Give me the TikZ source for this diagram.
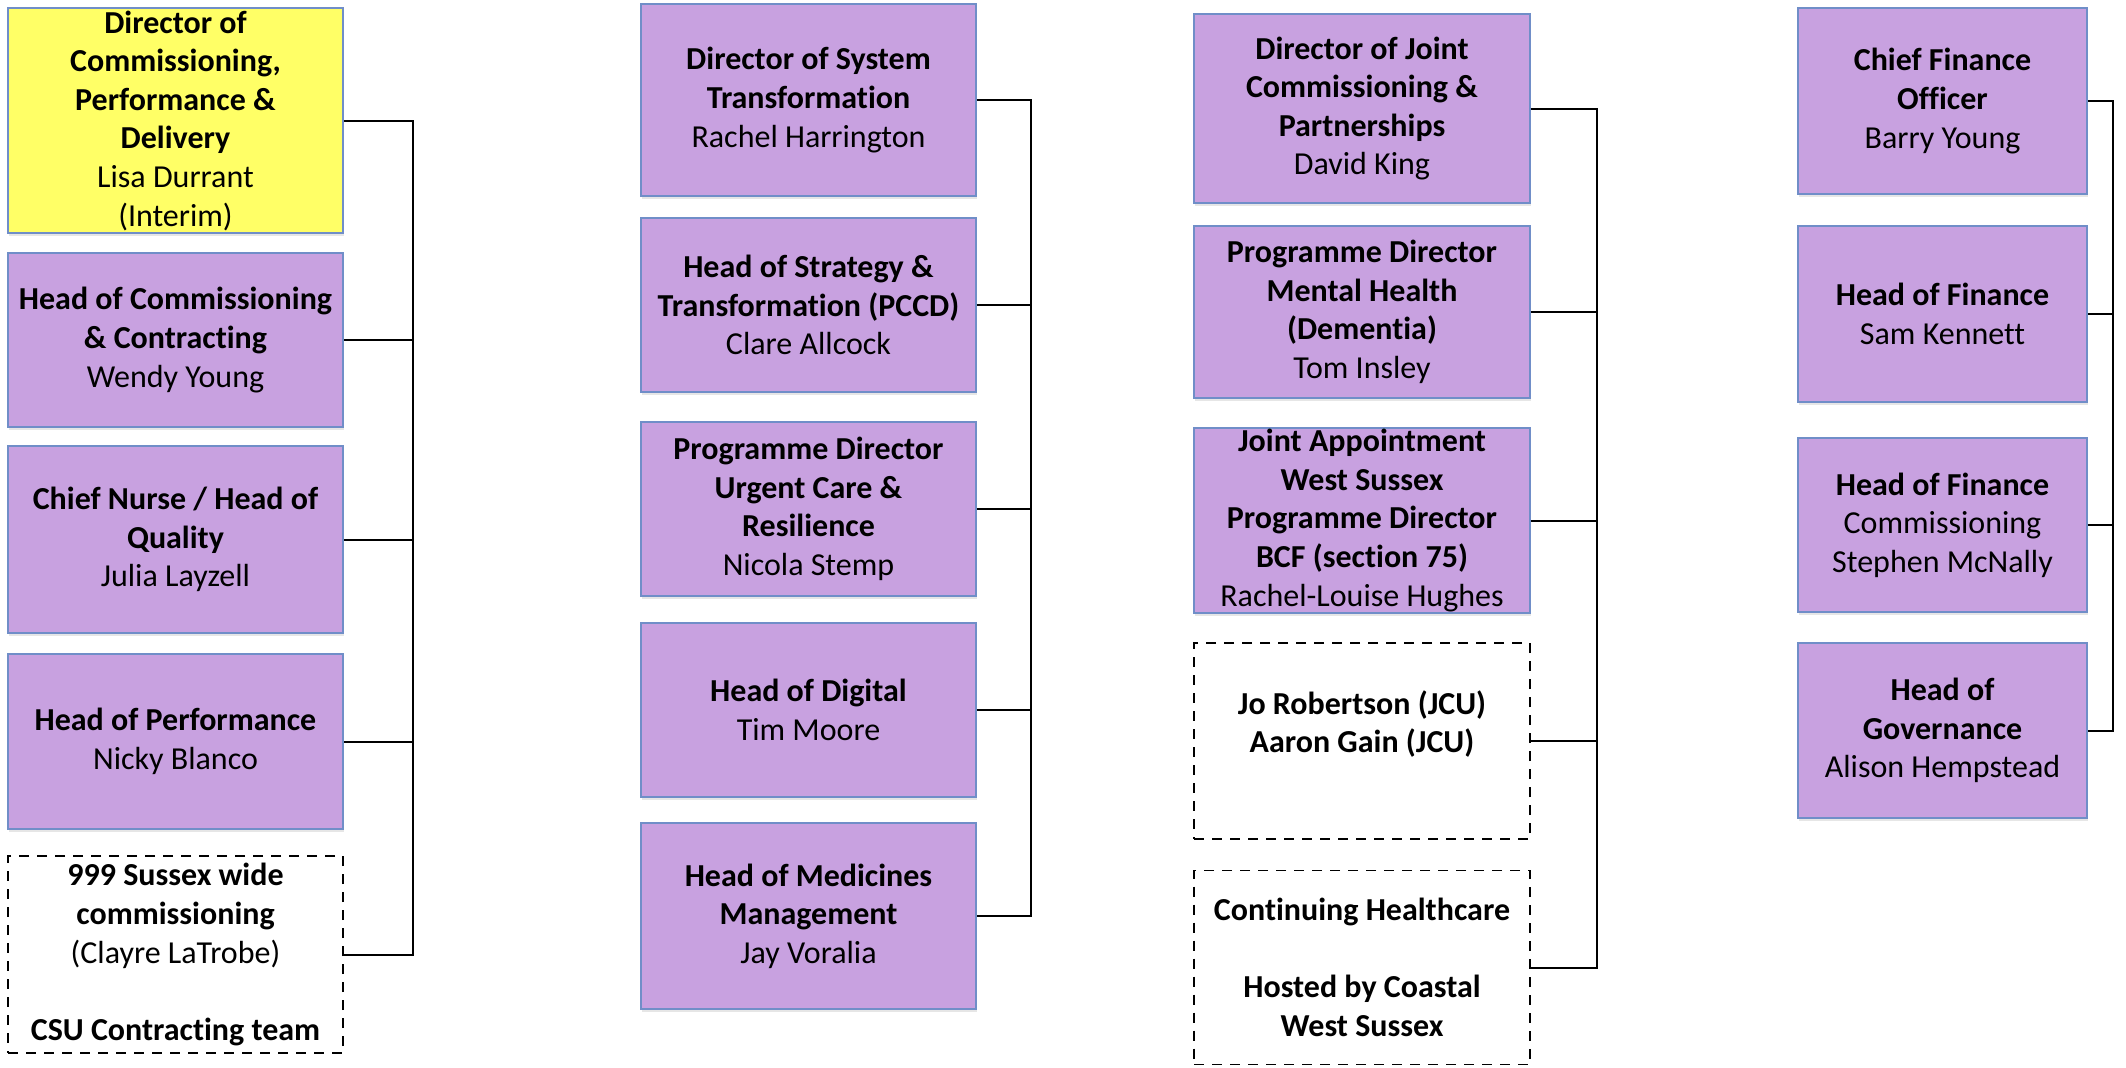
\documentclass[tikz,border=0pt]{standalone}
\usepackage{fontspec}
\setmainfont{Carlito}[Ligatures=CommonOff]
\usetikzlibrary{shadows}

\definecolor{rolepurple}{RGB}{200,161,224}
\definecolor{roleedge}{RGB}{112,142,200}
\definecolor{roleyellow}{RGB}{255,255,102}

\begin{document}
\begin{tikzpicture}
[x = 0.5pt, y = -0.5pt, % one unit is one pixel of the chart
line width = 1pt, % connector lines
every node/.style={align=center, inner sep=0pt, font=\fontsize{16}{19.3}\selectfont},
role/.style={rectangle, draw=roleedge, line width=0.8pt, fill=rolepurple,
  drop shadow={opacity=0.2, shadow xshift=0.6pt, shadow yshift=-1.6pt}},
lead/.style={role, fill=roleyellow},
team/.style={rectangle, draw=black, line width=0.9pt, dash pattern=on 5pt off 4pt, fill=white},
colA/.style={minimum width=167.5pt},
colB/.style={minimum width=168pt},
colC/.style={minimum width=144.5pt}]

\useasboundingbox (0,0) rectangle (2126,1067);

% commissioning, performance & delivery
\node[lead, colA, minimum height=112.5pt] (b11) at (175.5,120.5) {\textbf{Director of}\\\textbf{Commissioning,}\\\textbf{Performance \&}\\\textbf{Delivery}\\Lisa Durrant\\(Interim)};
\node[role, colA, minimum height=87pt] (b12) at (175.5,340) {\textbf{Head of Commissioning}\\\textbf{\& Contracting}\\Wendy Young};
\node[role, colA, minimum height=93.5pt] (b13) at (175.5,539.5) {\textbf{Chief Nurse / Head of}\\\textbf{Quality}\\Julia Layzell};
\node[role, colA, minimum height=87.5pt] (b14) at (175.5,741.5) {\textbf{Head of Performance}\\Nicky Blanco};
\node[team, colA, minimum height=98.5pt] (b15) at (175.5,954.5) {\textbf{999 Sussex wide}\\\textbf{commissioning}\\(Clayre LaTrobe)\\~\\\textbf{CSU Contracting team}};

% system transformation
\node[role, colA, minimum height=96pt] (b21) at (808.5,100) {\textbf{Director of System}\\\textbf{Transformation}\\Rachel Harrington};
\node[role, colA, minimum height=87pt] (b22) at (808.5,305) {\textbf{Head of Strategy \&}\\\textbf{Transformation (PCCD)}\\Clare Allcock};
\node[role, colA, minimum height=87pt] (b23) at (808.5,509) {\textbf{Programme Director}\\\textbf{Urgent Care \&}\\\textbf{Resilience}\\Nicola Stemp};
\node[role, colA, minimum height=87pt] (b24) at (808.5,710) {\textbf{Head of Digital}\\Tim Moore};
\node[role, colA, minimum height=93pt] (b25) at (808.5,916) {\textbf{Head of Medicines}\\\textbf{Management}\\Jay Voralia};

% joint commissioning & partnerships
\node[role, colB, minimum height=94.5pt] (b31) at (1362,108.5) {\textbf{Director of Joint}\\\textbf{Commissioning \&}\\\textbf{Partnerships}\\David King};
\node[role, colB, minimum height=86pt] (b32) at (1362,312) {\textbf{Programme Director}\\\textbf{Mental Health}\\\textbf{(Dementia)}\\Tom Insley};
\node[role, colB, minimum height=92.5pt] (b33) at (1362,520.5) {\textbf{Joint Appointment}\\\textbf{West Sussex}\\\textbf{Programme Director}\\\textbf{BCF (section 75)}\\Rachel-Louise Hughes};
\node[team, colB, minimum height=98pt] (b34) at (1362,741) {\textbf{Jo Robertson (JCU)}\\\textbf{Aaron Gain (JCU)}\\~};
\node[team, colB, minimum height=97pt] (b35) at (1362,967.5) {\textbf{Continuing Healthcare}\\~\\\textbf{Hosted by Coastal}\\\textbf{West Sussex}};

% finance
\node[role, colC, minimum height=93pt] (b41) at (1942.5,101) {\textbf{Chief Finance}\\\textbf{Officer}\\Barry Young};
\node[role, colC, minimum height=88pt] (b42) at (1942.5,314) {\textbf{Head of Finance}\\Sam Kennett};
\node[role, colC, minimum height=87pt] (b43) at (1942.5,525) {\textbf{Head of Finance}\\Commissioning\\Stephen McNally};
\node[role, colC, minimum height=87.5pt] (b44) at (1942.5,730.5) {\textbf{Head of}\\\textbf{Governance}\\Alison Hempstead};

% spines
\coordinate (s1) at (413,0);
\coordinate (s2) at (1031,0);
\coordinate (s3) at (1597,0);
\coordinate (s4) at (2113,0);

\draw (b11.east) -- (b11.east -| s1) -- (b15.east -| s1) -- (b15.east);
\foreach \n in {b12,b13,b14}
  \draw (\n.east) -- (\n.east -| s1);

\draw (b21.east) -- (b21.east -| s2) -- (b25.east -| s2) -- (b25.east);
\foreach \n in {b22,b23,b24}
  \draw (\n.east) -- (\n.east -| s2);

\draw (b31.east) -- (b31.east -| s3) -- (b35.east -| s3) -- (b35.east);
\foreach \n in {b32,b33,b34}
  \draw (\n.east) -- (\n.east -| s3);

\draw (b41.east) -- (b41.east -| s4) -- (b44.east -| s4) -- (b44.east);
\foreach \n in {b42,b43}
  \draw (\n.east) -- (\n.east -| s4);
\end{tikzpicture}
\end{document}
